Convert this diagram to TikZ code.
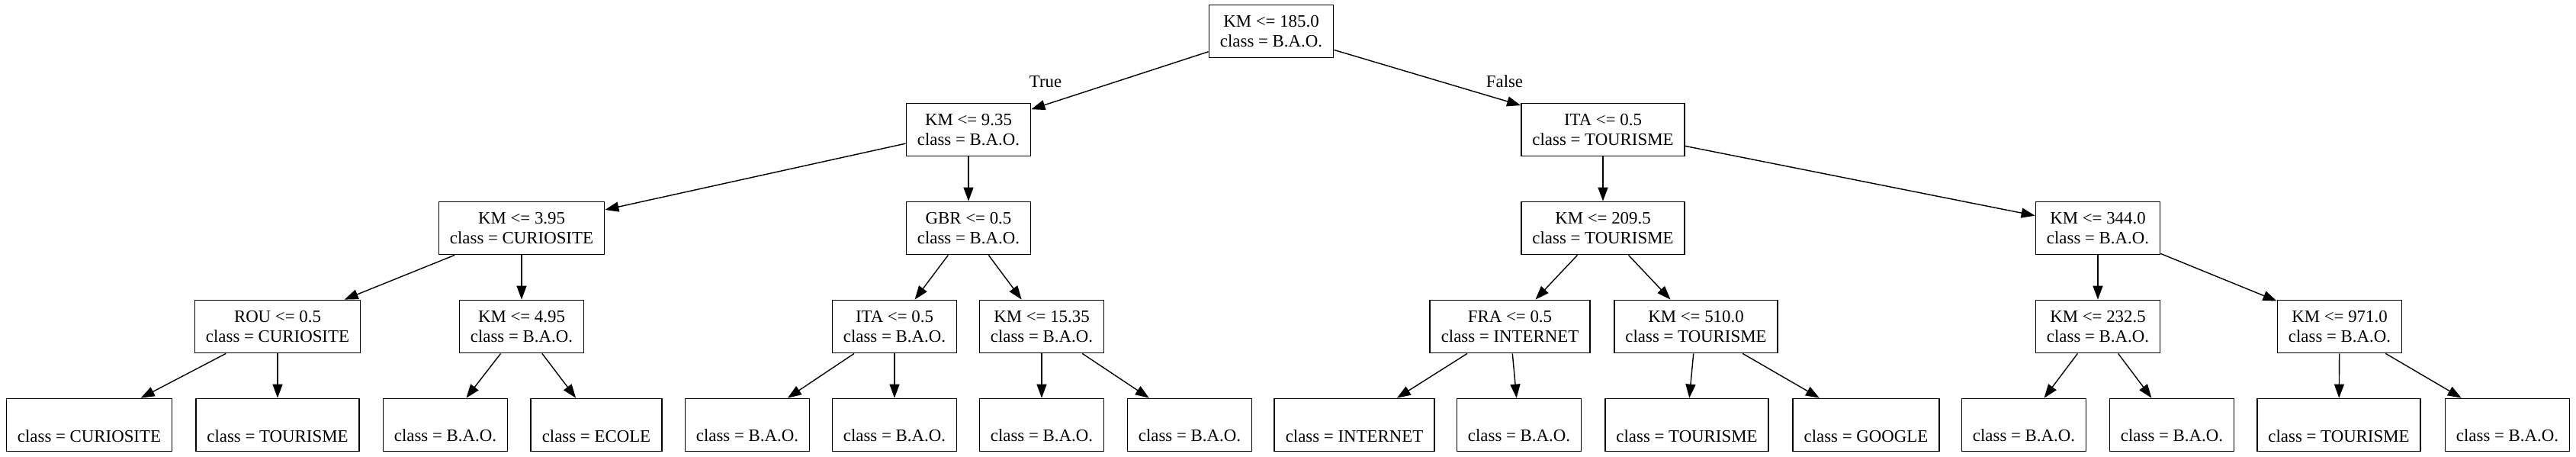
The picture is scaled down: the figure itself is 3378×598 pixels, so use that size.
\documentclass[tikz,border=0pt]{standalone}
\usepackage{fontspec}
\setmainfont{Liberation Serif}
\usetikzlibrary{arrows.meta}

\begin{document}
\begin{tikzpicture}[x=0.2mm, y=-0.2mm,
    every node/.style={font=\fontsize{13}{14.8}\selectfont},
    split/.style={draw, line width=1pt, align=center, inner xsep=0.29cm, minimum height=1.38cm},
    leaf/.style={split},
    edge/.style={-{Triangle[length=0.36cm, width=0.26cm]}, line width=0.8pt}]
  \useasboundingbox (0,0) rectangle (3378,598);
  % root
  \node[split] (r) at (1667,41) {KM <= 185.0\\class = B.A.O.};
  % depth 1
  \node[split] (a) at (1270,170) {KM <= 9.35\\class = B.A.O.};
  \node[split] (b) at (2102,170) {ITA <= 0.5\\class = TOURISME};
  % depth 2
  \node[split] (aa) at (684,299) {KM <= 3.95\\class = CURIOSITE};
  \node[split] (ab) at (1270,299) {GBR <= 0.5\\class = B.A.O.};
  \node[split] (ba) at (2102,299) {KM <= 209.5\\class = TOURISME};
  \node[split] (bb) at (2751,299) {KM <= 344.0\\class = B.A.O.};
  % depth 3
  \node[split] (aaa) at (364,428) {ROU <= 0.5\\class = CURIOSITE};
  \node[split] (aab) at (684,428) {KM <= 4.95\\class = B.A.O.};
  \node[split] (aba) at (1173,428) {ITA <= 0.5\\class = B.A.O.};
  \node[split] (abb) at (1366,428) {KM <= 15.35\\class = B.A.O.};
  \node[split] (baa) at (1980,428) {FRA <= 0.5\\class = INTERNET};
  \node[split] (bab) at (2224,428) {KM <= 510.0\\class = TOURISME};
  \node[split] (bba) at (2751,428) {KM <= 232.5\\class = B.A.O.};
  \node[split] (bbb) at (3068,428) {KM <= 971.0\\class = B.A.O.};
  % leaves
  \node[leaf] (l1) at (117,557) {\strut\\class = CURIOSITE};
  \node[leaf] (l2) at (364,557) {\strut\\class = TOURISME};
  \node[leaf] (l3) at (584,557) {\strut\\class = B.A.O.};
  \node[leaf] (l4) at (782,557) {\strut\\class = ECOLE};
  \node[leaf] (l5) at (980,557) {\strut\\class = B.A.O.};
  \node[leaf] (l6) at (1173,557) {\strut\\class = B.A.O.};
  \node[leaf] (l7) at (1366,557) {\strut\\class = B.A.O.};
  \node[leaf] (l8) at (1560,557) {\strut\\class = B.A.O.};
  \node[leaf] (l9) at (1776,557) {\strut\\class = INTERNET};
  \node[leaf] (l10) at (1992,557) {\strut\\class = B.A.O.};
  \node[leaf] (l11) at (2212,557) {\strut\\class = TOURISME};
  \node[leaf] (l12) at (2447,557) {\strut\\class = GOOGLE};
  \node[leaf] (l13) at (2654,557) {\strut\\class = B.A.O.};
  \node[leaf] (l14) at (2848,557) {\strut\\class = B.A.O.};
  \node[leaf] (l15) at (3067,557) {\strut\\class = TOURISME};
  \node[leaf] (l16) at (3288,557) {\strut\\class = B.A.O.};
  % edge labels
  \node (t) at (1371,107) {True};
  \node (f) at (1973,107) {False};
  % edges
  \draw[edge] (r) -- (a);
  \draw[edge] (r) -- (b);
  \draw[edge] (a) -- (aa);
  \draw[edge] (a) -- (ab);
  \draw[edge] (b) -- (ba);
  \draw[edge] (b) -- (bb);
  \draw[edge] (aa) -- (aaa);
  \draw[edge] (aa) -- (aab);
  \draw[edge] (ab) -- (aba);
  \draw[edge] (ab) -- (abb);
  \draw[edge] (ba) -- (baa);
  \draw[edge] (ba) -- (bab);
  \draw[edge] (bb) -- (bba);
  \draw[edge] (bb) -- (bbb);
  \draw[edge] (aaa) -- (l1);
  \draw[edge] (aaa) -- (l2);
  \draw[edge] (aab) -- (l3);
  \draw[edge] (aab) -- (l4);
  \draw[edge] (aba) -- (l5);
  \draw[edge] (aba) -- (l6);
  \draw[edge] (abb) -- (l7);
  \draw[edge] (abb) -- (l8);
  \draw[edge] (baa) -- (l9);
  \draw[edge] (baa) -- (l10);
  \draw[edge] (bab) -- (l11);
  \draw[edge] (bab) -- (l12);
  \draw[edge] (bba) -- (l13);
  \draw[edge] (bba) -- (l14);
  \draw[edge] (bbb) -- (l15);
  \draw[edge] (bbb) -- (l16);
\end{tikzpicture}
\end{document}
